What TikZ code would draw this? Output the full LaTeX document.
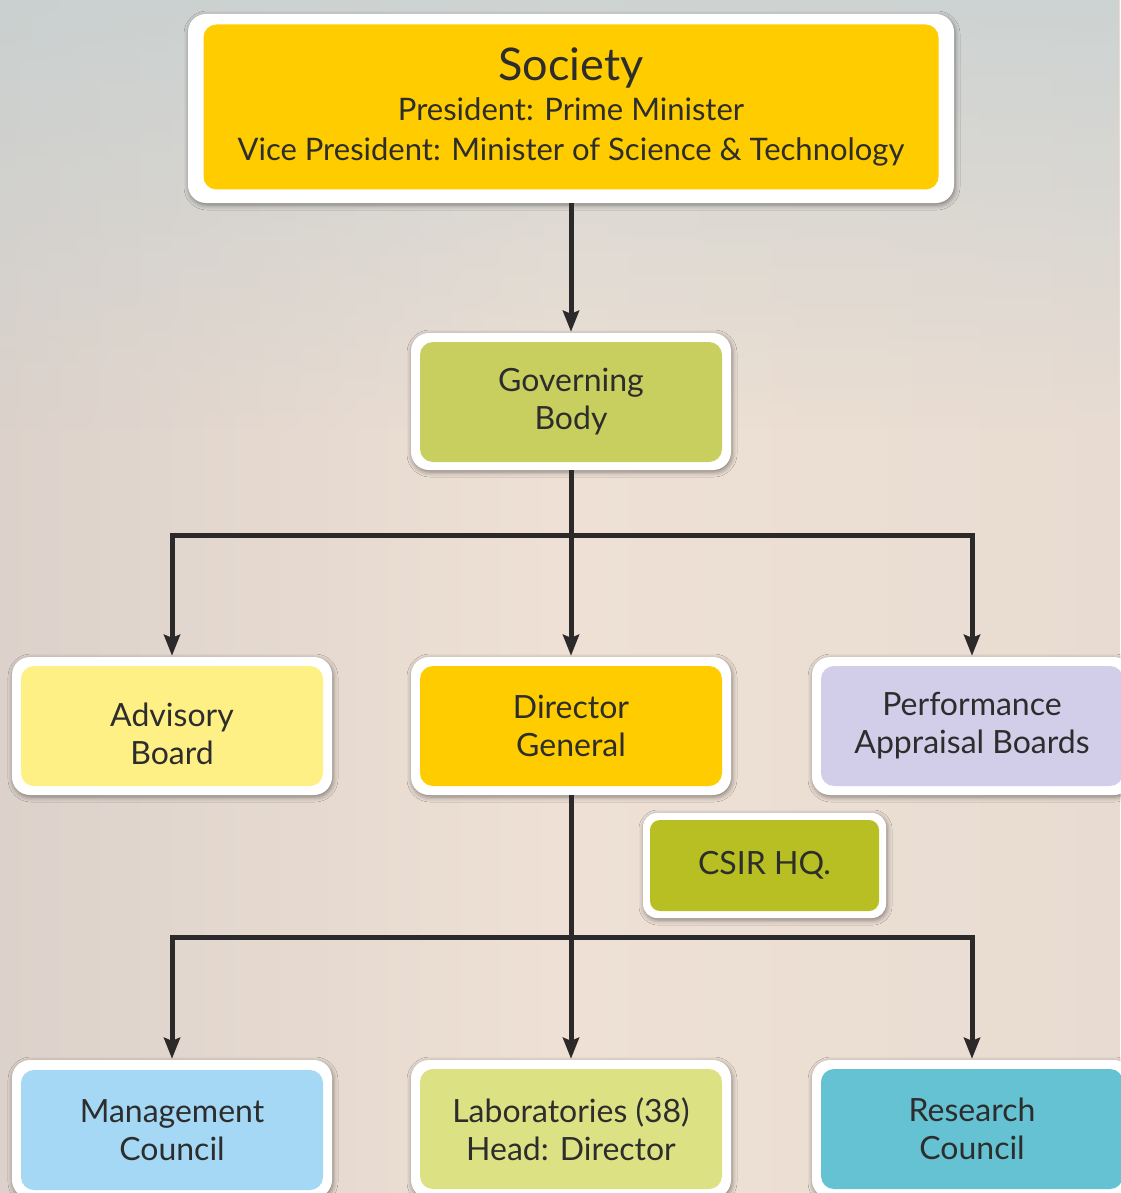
\documentclass[tikz,border=0pt]{standalone}
\usepackage{fontspec}
\setmainfont{Lato}
\usetikzlibrary{arrows.meta,shadows.blur,fadings}
\definecolor{bgL}{RGB}{200,197,194}
\definecolor{bgA}{RGB}{220,210,203}
\definecolor{bgM}{RGB}{238,224,212}
\definecolor{bgB}{RGB}{232,220,210}
\definecolor{bgR}{RGB}{210,204,200}
\definecolor{bgT}{RGB}{196,208,210}
\definecolor{txt}{RGB}{45,45,45}
\definecolor{lin}{RGB}{43,41,41}
\definecolor{cSoc}{RGB}{255,204,0}
\definecolor{cGov}{RGB}{201,207,94}
\definecolor{cAdv}{RGB}{255,240,133}
\definecolor{cDir}{RGB}{255,204,0}
\definecolor{cPer}{RGB}{210,205,232}
\definecolor{cHQ}{RGB}{184,191,34}
\definecolor{cMan}{RGB}{164,216,245}
\definecolor{cLab}{RGB}{220,226,131}
\definecolor{cRes}{RGB}{101,194,210}
\pgfdeclarehorizontalshading{bgshade}{100bp}{color(0bp)=(bgL); color(25bp)=(bgA); color(50bp)=(bgM); color(75bp)=(bgB); color(100bp)=(bgR)}
\begin{document}
\begin{tikzpicture}[x=1pt,y=-1pt,
  frame/.style={fill=white, draw=none, rounded corners=18pt, inner sep=0pt,
    blur shadow={shadow xshift=1pt, shadow yshift=-2pt, shadow blur radius=5pt, shadow opacity=45}},
  inbox/.style={rounded corners=13pt, inner sep=0pt, align=center, text=txt,
    font=\fontsize{32}{38}\selectfont},
  txtonly/.style={inner sep=0pt, align=center, text=txt, font=\fontsize{32}{38}\selectfont},
  conn/.style={draw=lin, line width=5pt, -{Stealth[length=21pt,width=16pt,inset=3pt]}, shorten >=1pt}
]
% background
\fill[shading=bgshade] (0,0) rectangle (1120,1193);
\fill[bgT, path fading=south, opacity=0.75] (0,0) rectangle (1120,430);
\useasboundingbox (0,0) rectangle (1120,1193);

% Society
\node[frame, minimum width=766pt, minimum height=189pt] (soc) at (571,108.5) {};
\node[inbox, fill=cSoc, minimum width=735pt, minimum height=165pt, font=\fontsize{31}{40}\selectfont] (socin) at (571,107)
  {{\fontsize{45}{46}\selectfont Society}\\President: Prime Minister\\Vice President: Minister of Science \& Technology};

% Governing Body
\node[frame, minimum width=320pt, minimum height=137pt] (gb) at (571,401.5) {};
\node[inbox, fill=cGov, minimum width=302pt, minimum height=120pt] (gbin) at (571,402) {Governing\\Body};

% second row
\node[frame, minimum width=320pt, minimum height=138pt] (ab) at (172,726) {};
\node[inbox, fill=cAdv, minimum width=302pt, minimum height=120pt] (abin) at (172,726) {};
\node[txtonly] (abtx) at (172,734) {Advisory\\Board};

\node[frame, minimum width=320pt, minimum height=138pt] (dg) at (571,726) {};
\node[inbox, fill=cDir, minimum width=302pt, minimum height=120pt] (dgin) at (571,726) {Director\\General};

\node[frame, minimum width=320pt, minimum height=138pt] (pab) at (972,726) {};
\node[inbox, fill=cPer, minimum width=302pt, minimum height=120pt] (pabin) at (972,726) {Performance\\Appraisal Boards};

% CSIR HQ
\node[frame, rounded corners=14pt, minimum width=243pt, minimum height=105pt] (hq) at (764.5,865.5) {};
\node[inbox, rounded corners=10pt, fill=cHQ, minimum width=229pt, minimum height=91pt] (hqin) at (764.5,865.5) {CSIR HQ.};

% bottom row
\node[frame, minimum width=320pt, minimum height=138pt] (mc) at (172,1129) {};
\node[inbox, fill=cMan, minimum width=302pt, minimum height=120pt] (mcin) at (172,1130) {Management\\Council};

\node[frame, minimum width=320pt, minimum height=138pt] (lab) at (571,1129) {};
\node[inbox, fill=cLab, minimum width=302pt, minimum height=120pt] (labin) at (571,1129) {Laboratories (38)\\Head: Director};

\node[frame, minimum width=320pt, minimum height=138pt] (rc) at (972,1129) {};
\node[inbox, fill=cRes, minimum width=302pt, minimum height=120pt] (rcin) at (972,1129) {Research\\Council};

% connectors
\coordinate (j1) at (571,535);
\coordinate (j2) at (571,937);
\draw[conn] (soc.south) -- (gb.north);
\draw[conn] (gb.south) -- (dg.north);
\draw[conn] (j1) -| (ab.north);
\draw[conn] (j1) -| (pab.north);
\draw[conn] (dg.south) -- (lab.north);
\draw[conn] (j2) -| (mc.north);
\draw[conn] (j2) -| (rc.north);
\end{tikzpicture}
\end{document}
